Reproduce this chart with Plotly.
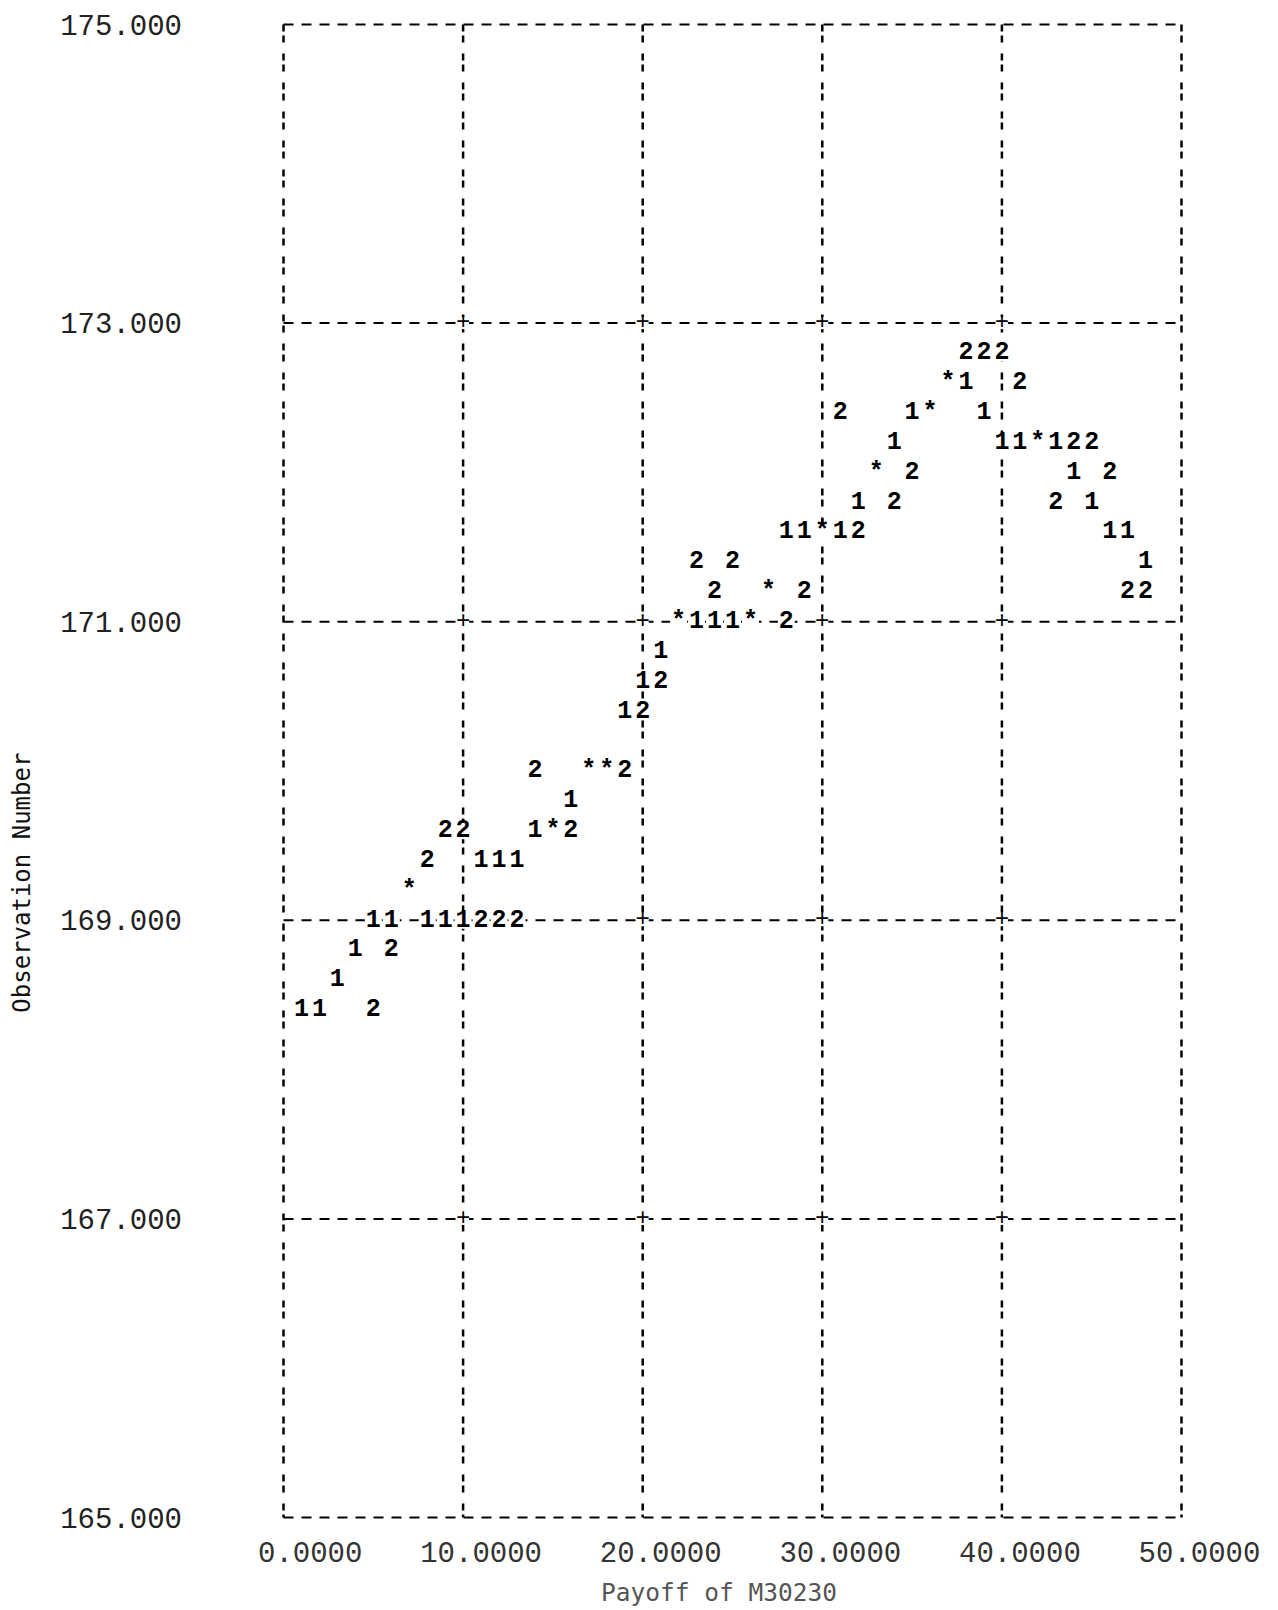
import plotly.graph_objects as go

# ---- data ----
s1_payoff = [1, 2, 3, 4, 5, 6, 7, 8, 9, 10, 11, 12, 13, 14, 15, 16, 17, 18, 19, 20, 21, 22, 23, 24,
             25, 26, 27, 28, 29, 30, 31, 32, 33, 34, 35, 36, 37, 38, 39, 40, 41, 42, 43, 44, 45, 46, 47, 48]
s1_obs = [168.4, 168.4, 168.6, 168.8, 169.0, 169.0, 169.2, 169.0, 169.0, 169.0, 169.4, 169.4,
          169.4, 169.6, 169.6, 169.8, 170.0, 170.0, 170.4, 170.6, 170.8, 171.0, 171.0, 171.0,
          171.0, 171.0, 171.2, 171.6, 171.6, 171.6, 171.6, 171.8, 172.0, 172.2, 172.4, 172.4,
          172.6, 172.6, 172.4, 172.2, 172.2, 172.2, 172.2, 172.0, 171.8, 171.6, 171.6, 171.4]

s2_payoff = [5, 6, 7, 8, 9, 10, 11, 12, 13, 14, 15, 16, 17, 18, 19, 20, 21, 22, 23, 24, 25, 26,
             27, 28, 29, 30, 31, 32, 33, 34, 35, 36, 37, 38, 39, 40, 41, 42, 43, 44, 45, 46, 47, 48]
s2_obs = [168.4, 168.8, 169.2, 169.4, 169.6, 169.6, 169.0, 169.0, 169.0, 170.0, 169.6, 169.6,
          170.0, 170.0, 170.0, 170.4, 170.6, 171.0, 171.4, 171.2, 171.4, 171.0, 171.2, 171.0,
          171.2, 171.6, 172.4, 171.6, 172.0, 171.8, 172.0, 172.4, 172.6, 172.8, 172.8, 172.8,
          172.6, 172.2, 171.8, 172.2, 172.2, 172.0, 171.2, 171.2]

x_ticks = [0, 10, 20, 30, 40, 50]
x_ticktext = ["\u00a00.0000", "10.0000", "20.0000", "30.0000", "40.0000", "50.0000"]
y_ticks = [165, 167, 169, 171, 173, 175]
y_ticktext = ["165.000", "167.000", "169.000", "171.000", "173.000", "175.000"]

x_title = "Payoff of M30230"
y_title = "Observation Number"

# ---- symbol assignment: '*' where both series fall in the same cell ----
p1 = set(zip(s1_payoff, s1_obs))
p2 = set(zip(s2_payoff, s2_obs))
both = p1 & p2
only1 = sorted(p1 - both)
only2 = sorted(p2 - both)
stars = sorted(both)

W, H = 1278, 1610
# frame (x 0..50, y 165..175) in page pixels
FL, FR, FT, FB = 283, 1182, 24, 1518
PADPX = 4.5                                   # small pad so the frame lines are not clipped
xpx = (FR - FL) / (x_ticks[-1] - x_ticks[0])
ypx = (FB - FT) / (y_ticks[-1] - y_ticks[0])
xr = [x_ticks[0] - PADPX / xpx, x_ticks[-1] + PADPX / xpx]
yr = [y_ticks[0] - PADPX / ypx, y_ticks[-1] + PADPX / ypx]
PL, PR, PT, PB = FL - PADPX, FR + PADPX, FT - PADPX, FB + PADPX
L, R, T, B = PL, W - PR, PT, H - PB

fig = go.Figure()

# grid lines (printer style)
for xv in x_ticks:
    fig.add_shape(type="line", x0=xv, x1=xv, y0=y_ticks[-1], y1=y_ticks[0],
                  xref="x", yref="y", layer="below",
                  line=dict(color="black", width=2.5, dash="7px,4px,7px,11px"))
for yv in y_ticks:
    fig.add_shape(type="line", x0=x_ticks[0], x1=x_ticks[-1], y0=yv, y1=yv,
                  xref="x", yref="y", layer="below",
                  line=dict(color="black", width=2, dash="10px,8px"))

# '+' at interior intersections not occupied by data
occupied = p1 | p2
plus = [(xv, yv) for xv in x_ticks[1:-1] for yv in y_ticks[1:-1] if (xv, yv) not in occupied]
fig.add_trace(go.Scatter(
    x=[p[0] for p in plus], y=[p[1] for p in plus], mode="markers+text", text=["+"] * len(plus),
    marker=dict(symbol="square", size=12, color="white"),
    textfont=dict(family="Liberation Mono", size=24, color="black"),
    textposition="middle center", hoverinfo="skip", showlegend=False))


def add_sym(points, ch):
    fig.add_trace(go.Scatter(
        x=[p[0] for p in points], y=[p[1] for p in points], mode="markers+text",
        text=[ch] * len(points),
        marker=dict(symbol="square", size=17, color="white"),
        textfont=dict(family="Liberation Mono", size=25, color="black", weight="bold"),
        textposition="middle center", showlegend=False, name=ch))


add_sym(only1, "1")
add_sym(only2, "2")
add_sym(stars, "*")

fig.update_layout(
    width=W, height=H,
    margin=dict(l=L, r=R, t=T, b=B, pad=0),
    paper_bgcolor="white", plot_bgcolor="white",
    showlegend=False,
    xaxis=dict(range=xr, tickvals=x_ticks, ticktext=x_ticktext, showgrid=False,
               zeroline=False, showline=False, ticks="",
               tickfont=dict(family="Liberation Mono", size=29, color="#333333"),
               ticklabelshift=18, ticklabelstandoff=10),
    yaxis=dict(range=yr, tickvals=y_ticks, ticktext=y_ticktext, showgrid=False,
               zeroline=False, showline=False, ticks="",
               tickfont=dict(family="Liberation Mono", size=29, color="#222222"),
               ticklabelstandoff=96),
    annotations=[
        dict(text=y_title, xref="paper", yref="paper", x=(21 - PL) / (PR - PL),
             y=(PB - 883) / (PB - PT), xanchor="center", yanchor="middle",
             textangle=-90, showarrow=False,
             font=dict(family="DejaVu Sans Mono", size=24, color="#111111")),
        dict(text=x_title, xref="paper", yref="paper", x=(719 - PL) / (PR - PL),
             y=(PB - 1593) / (PB - PT), xanchor="center", yanchor="middle",
             showarrow=False,
             font=dict(family="DejaVu Sans Mono", size=24.5, color="#555555")),
    ],
)

fig.write_html("out.html", config={"displayModeBar": False},
               post_script="document.body.style.margin='0';")
